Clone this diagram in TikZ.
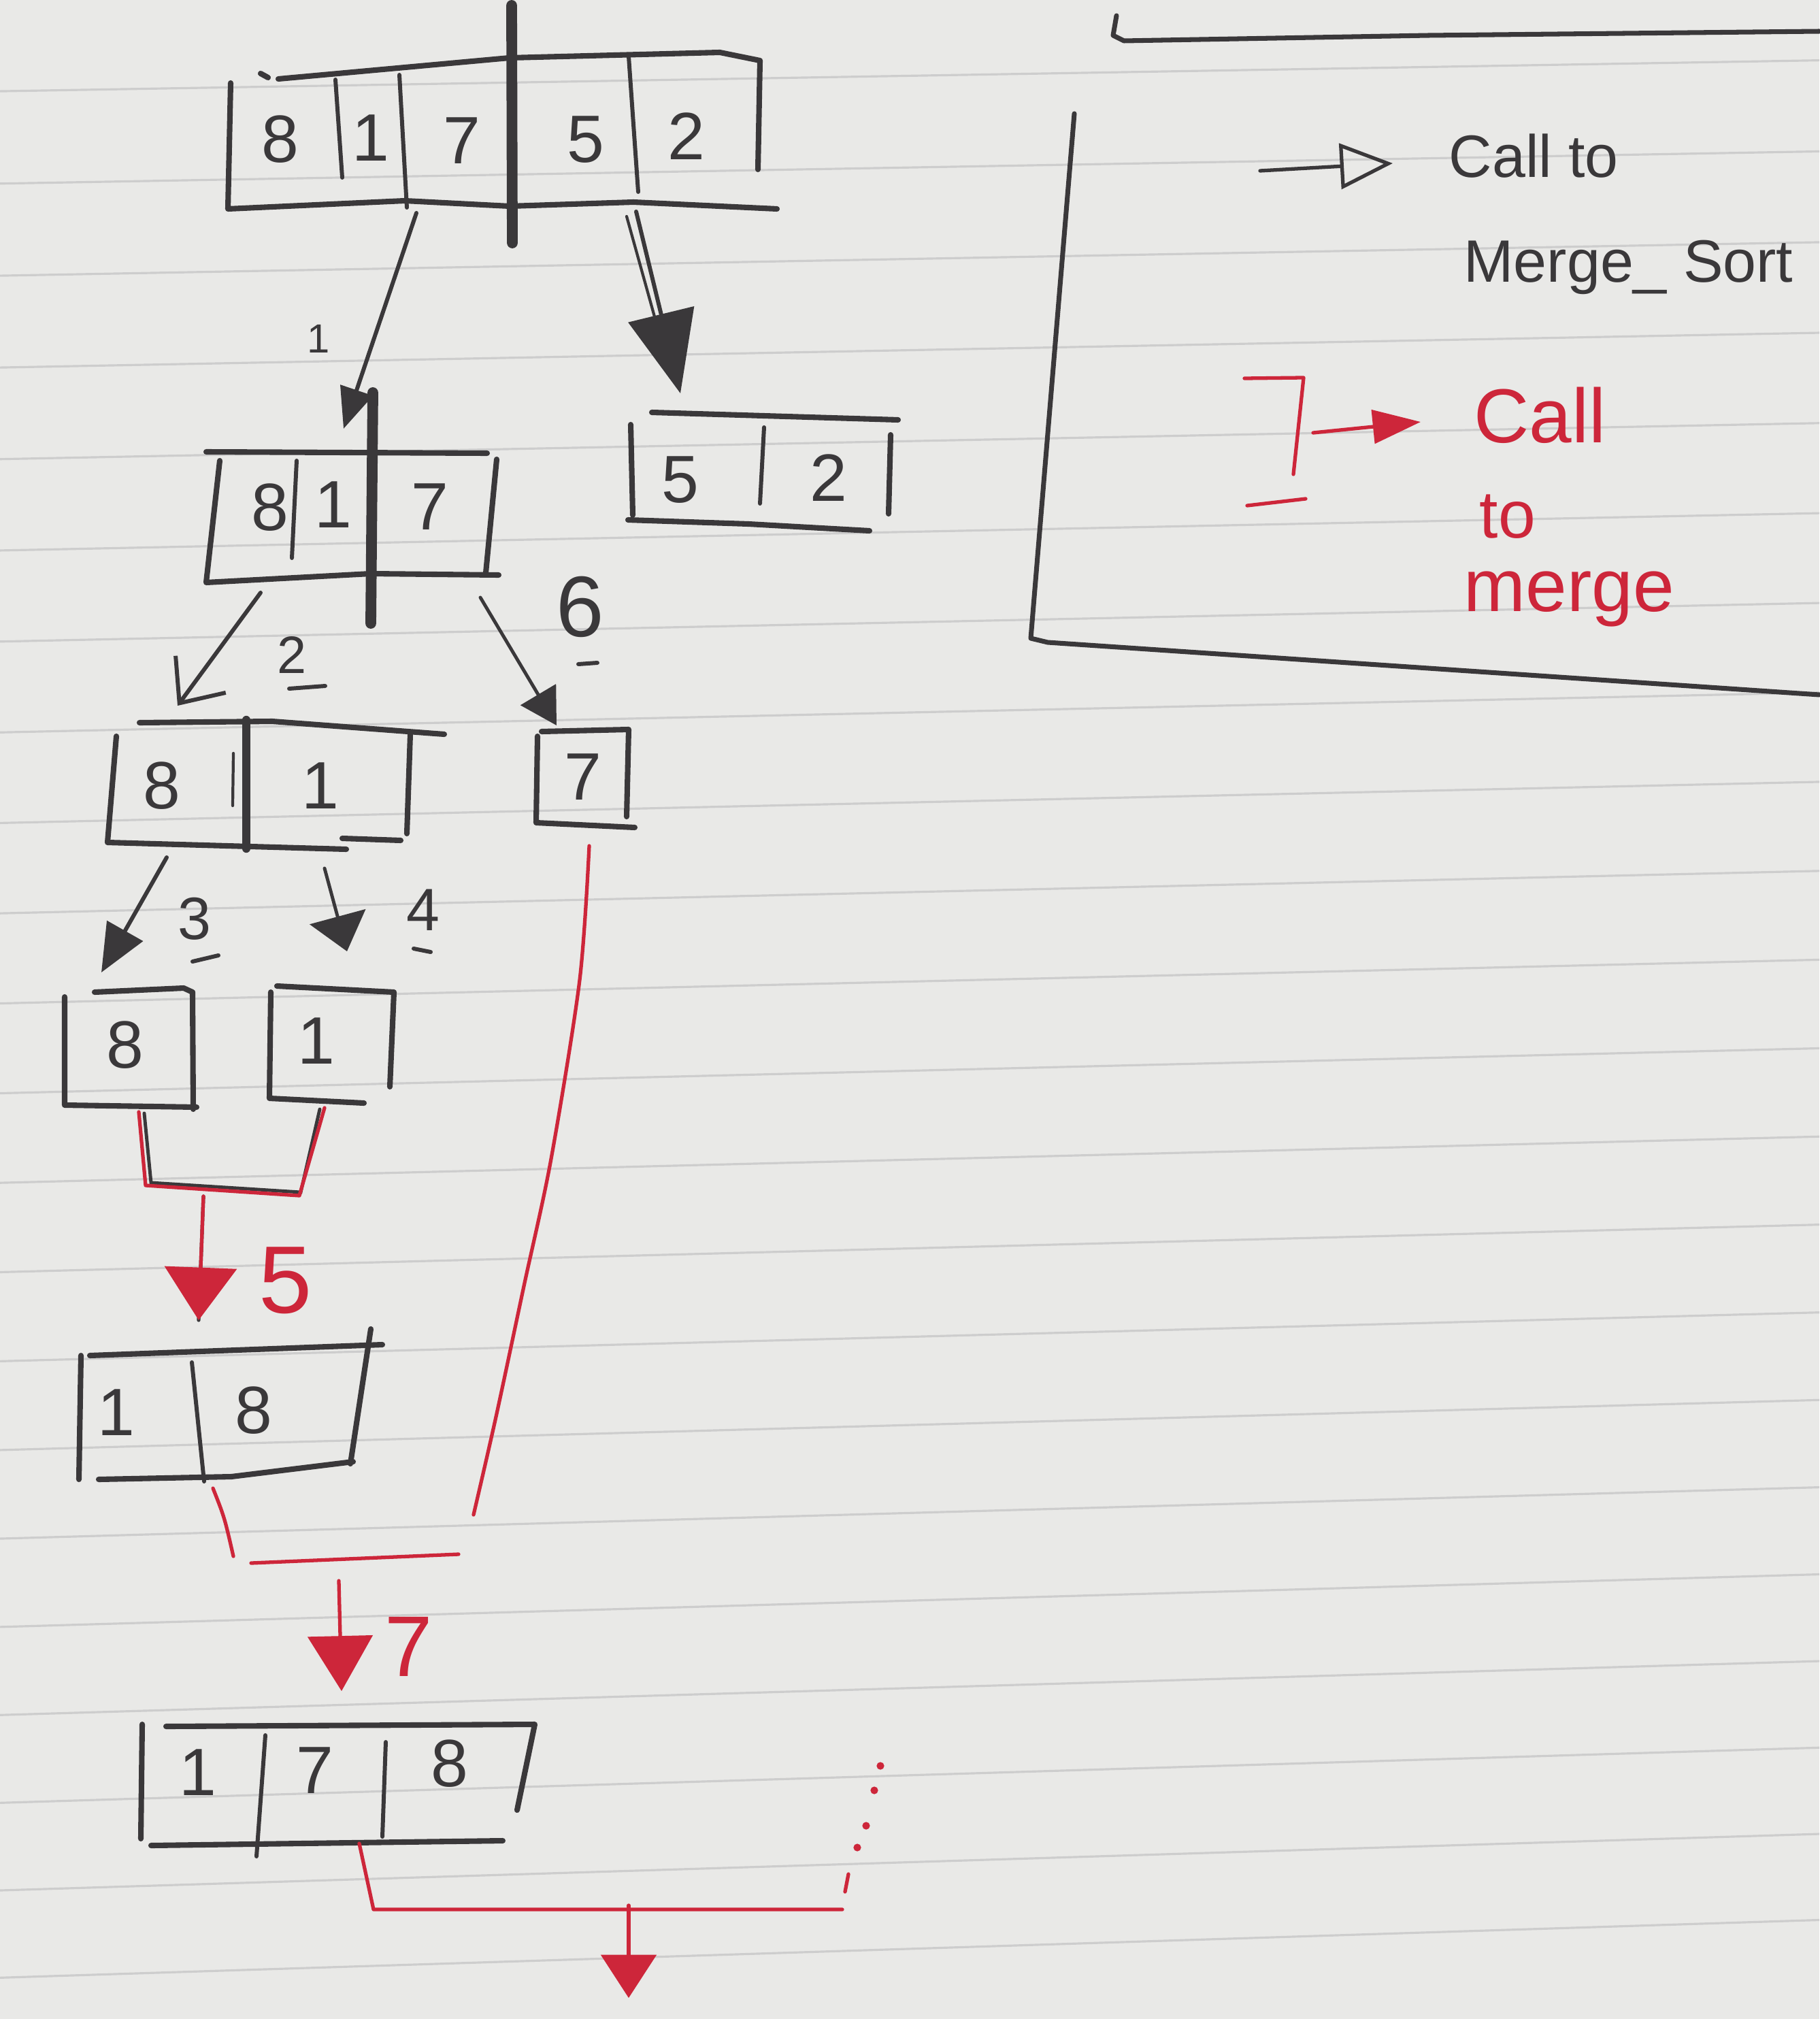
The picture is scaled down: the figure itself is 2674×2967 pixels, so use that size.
\documentclass[tikz,border=0pt]{standalone}
\usepackage{fontspec}
\setmainfont{Liberation Sans}
\usetikzlibrary{arrows.meta}
\definecolor{paper}{RGB}{233,233,231}
\definecolor{ruled}{RGB}{205,205,205}
\definecolor{ink}{RGB}{58,56,58}
\definecolor{rink}{RGB}{205,38,58}
\tikzset{
  boxline/.style={draw=ink, line width=2.3pt, line cap=round, line join=round},
  divline/.style={draw=ink, line width=1.7pt, line cap=round},
  splitline/.style={draw=ink, line width=4.5pt, line cap=round},
  callarrow/.style={draw=ink, line width=1.7pt, line cap=round},
  redline/.style={draw=rink, line width=1.5pt, line cap=round, line join=round},
  digit/.style={text=ink, inner sep=0pt, font=\fontsize{28}{30}\selectfont},
  lbl/.style={text=ink, inner sep=0pt},
  rlbl/.style={text=rink, inner sep=0pt},
  ruling/.style={draw=ruled, line width=0.9pt},
  frameline/.style={draw=ink, line width=2pt, line cap=round, line join=round},
}
\begin{document}
\begin{tikzpicture}[x=0.01cm,y=-0.01cm]
\fill[paper] (0,0) rectangle (2674,2967);
\useasboundingbox (0,0) rectangle (2674,2967);
% ruled paper
\foreach \k in {0,...,21}{
  \pgfmathsetmacro\yyk{129+135.5*\k-0.185*\k*(\k-1)}
  \pgfmathsetmacro\slp{0.017+0.0007*\k}
  \draw[ruling] (0,{\yyk+300*\slp}) -- (2674,{\yyk-2374*\slp});
}

% ---------- top box 8 1 7 | 5 2
\draw[boxline] (383,108) -- (394,114);
\draw[boxline] (409,116) -- (749,85) -- (1058,77) -- (1117,89) -- (1114,249);
\draw[boxline] (339,122) -- (335,307) -- (595,295) -- (749,303) -- (931,297) -- (1142,307);
\draw[divline] (493,117) -- (503,261);
\draw[divline] (587,110) -- (598,305);
\draw[divline] (924,83) -- (938,282);
\draw[splitline] (752,8) -- (753,357);
\node[digit] (t8) at (412,205) {8};
\node[digit] (t1) at (545,203) {1};
\node[digit] (t7) at (679,207) {7};
\node[digit] (t5) at (861,205) {5};
\node[digit] (t2) at (1009,200) {2};

% ---------- box 8 1 | 7
\draw[boxline] (303,664) -- (716,666);
\draw[boxline] (323,677) -- (303,856) -- (545,843) -- (733,845);
\draw[boxline] (730,675) -- (714,842);
\draw[divline] (436,677) -- (429,820);
\draw[splitline] (548,577) -- (545,916);
\node[digit] (m8) at (397,746) {8};
\node[digit] (m1) at (490,742) {1};
\node[digit] (m7) at (632,745) {7};

% ---------- box 5 2
\draw[boxline] (958,606) -- (1320,617);
\draw[boxline] (927,624) -- (930,757);
\draw[boxline] (923,764) -- (1100,770) -- (1278,780);
\draw[boxline] (1309,639) -- (1306,755);
\draw[divline] (1123,628) -- (1117,740);
\node[digit] (r5) at (1000,705) {5};
\node[digit] (r2) at (1218,702) {2};

% ---------- box 8 | 1
\draw[boxline] (205,1062) -- (400,1060) -- (653,1079);
\draw[boxline] (171,1082) -- (158,1238) -- (509,1248);
\draw[boxline] (503,1232) -- (589,1235);
\draw[boxline] (603,1079) -- (598,1225);
\draw[splitline, line width=3.5pt] (362,1058) -- (362,1247);
\draw[divline, line width=1.2pt] (343,1107) -- (342,1184);
\node[digit] (p8) at (238,1155) {8};
\node[digit] (p1) at (471,1155) {1};

% ---------- box 7
\draw[boxline] (796,1075) -- (924,1072) -- (921,1200);
\draw[boxline] (790,1082) -- (788,1209) -- (933,1216);
\node[digit] (q7) at (857,1142) {7};

% ---------- single boxes 8 and 1
\draw[boxline] (139,1458) -- (270,1452) -- (283,1458) -- (284,1630);
\draw[boxline] (95,1465) -- (95,1624) -- (289,1627);
\node[digit] (s8) at (184,1536) {8};
\draw[boxline] (407,1449) -- (579,1458) -- (573,1597);
\draw[boxline] (398,1458) -- (396,1614) -- (535,1621);
\node[digit] (s1) at (465,1530) {1};

% ---------- box 1 | 8
\draw[boxline] (132,1992) -- (562,1976);
\draw[boxline] (545,1953) -- (515,2151);
\draw[boxline] (119,1992) -- (116,2174);
\draw[boxline] (145,2174) -- (340,2170) -- (519,2148);
\draw[divline] (282,2002) -- (300,2177);
\node[digit] (u1) at (171,2076) {1};
\node[digit] (u8) at (373,2073) {8};

% ---------- box 1 | 7 | 8
\draw[boxline] (244,2537) -- (786,2534) -- (760,2660);
\draw[boxline] (209,2534) -- (207,2702);
\draw[boxline] (222,2712) -- (739,2705);
\draw[divline] (390,2550) -- (377,2728);
\draw[divline] (567,2560) -- (562,2699);
\node[digit] (v1) at (291,2605) {1};
\node[digit] (v7) at (463,2602) {7};
\node[digit] (v8) at (661,2592) {8};

% ---------- calls to merge sort (black arrows)
\coordinate (a1s) at (612,313);  \coordinate (a1e) at (505,630);
\draw[callarrow, -{Triangle[length=17pt,width=14pt]}] (a1s) -- (a1e);
\node[lbl, font=\fontsize{17}{17}\selectfont] (l1) at (468,498) {1};

\coordinate (a9s) at (935,311);  \coordinate (a9e) at (1000,578);
\coordinate (a9b) at (921,318);  \coordinate (a9c) at (980,530);
\draw[callarrow, line width=1.2pt] (a9b) -- (a9c);
\draw[callarrow, -{Triangle[length=34pt,width=28pt]}] (a9s) -- (a9e);

\coordinate (a2s) at (383,871);  \coordinate (a2e) at (261,1037);
\draw[callarrow, -{Straight Barb[length=15pt,width=26pt]}] (a2s) -- (a2e);
\node[lbl, font=\fontsize{22}{22}\selectfont] (l2) at (429,962) {2};
\draw[callarrow] (425,1012) -- (478,1008);

\coordinate (a6s) at (706,878);  \coordinate (a6e) at (818,1066);
\draw[callarrow, line width=1.4pt, -{Triangle[length=15pt,width=17pt]}] (a6s) -- (a6e);
\node[lbl, font=\fontsize{36}{36}\selectfont] (l6) at (853,892) {6};
\draw[callarrow] (850,976) -- (878,974);

\coordinate (a3s) at (245,1260); \coordinate (a3e) at (149,1429);
\draw[callarrow, -{Triangle[length=20pt,width=17pt]}] (a3s) -- (a3e);
\node[lbl, font=\fontsize{25}{25}\selectfont] (l3) at (286,1350) {3};
\draw[callarrow] (283,1413) -- (321,1404);

\coordinate (a4s) at (477,1276); \coordinate (a4e) at (510,1398);
\draw[callarrow, line width=1.4pt, -{Triangle[length=15pt,width=24pt]}] (a4s) -- (a4e);
\node[lbl, font=\fontsize{25}{25}\selectfont] (l4) at (622,1337) {4};
\draw[callarrow] (608,1394) -- (633,1399);

% ---------- calls to merge (red)
\coordinate (m1a) at (204,1634); \coordinate (m1b) at (214,1742);
\coordinate (m1c) at (440,1757); \coordinate (m1d) at (477,1628);
\draw[callarrow, line width=1.4pt] (212,1636) -- (222,1738) -- (442,1752) -- (470,1630);
\draw[redline] (m1a) -- (m1b) -- (m1c) -- (m1d);
\coordinate (a5s) at (299,1758); \coordinate (a5e) at (292,1940);
\draw[callarrow, line width=1.5pt] (a5s) -- (a5e);
\draw[redline, -{Triangle[length=22pt,width=30pt,fill=rink]}] (a5s) -- (a5e);
\node[rlbl, font=\fontsize{40}{40}\selectfont] (l5) at (420,1882) {5};

\coordinate (rl1) at (866,1243); \coordinate (rl2) at (696,2226);
\draw[redline] plot[smooth] coordinates {(rl1) (852,1440) (810,1703) (770,1890) (729,2082) (rl2)};
\coordinate (b7a) at (313,2187); \coordinate (b7b) at (343,2287);
\draw[redline] (b7a) .. controls (330,2230) .. (b7b);
\coordinate (h7a) at (369,2297); \coordinate (h7b) at (674,2284);
\draw[redline] (h7a) -- (h7b);
\coordinate (a7s) at (498,2323); \coordinate (a7e) at (502,2485);
\draw[redline, -{Triangle[length=23pt,width=27pt]}] (a7s) -- (a7e);
\node[rlbl, font=\fontsize{36}{36}\selectfont] (l7) at (601,2420) {7};

\coordinate (b8a) at (528,2709); \coordinate (b8b) at (549,2806);
\coordinate (b8c) at (1238,2806);
\draw[redline] (b8a) -- (b8b) -- (b8c);
\coordinate (a8s) at (924,2800); \coordinate (a8e) at (924,2936);
\draw[redline, -{Triangle[length=18pt,width=23pt]}] (a8s) -- (a8e);
\fill[rink] (1294,2595) circle (1.6pt);
\fill[rink] (1285,2631) circle (1.6pt);
\fill[rink] (1273,2683) circle (1.6pt);
\fill[rink] (1260,2715) circle (1.6pt);
\draw[redline] (1247,2754) -- (1242,2780);

% ---------- legend
\draw[frameline] (1641,23) -- (1636,52) -- (1652,60) -- (2100,52) -- (2674,46);
\draw[frameline] (1579,167) -- (1515,938) -- (1540,944) -- (2674,1021);
\coordinate (lgs) at (1852,251); \coordinate (lge) at (2047,240);
\draw[callarrow, line width=1.5pt, -{Triangle[open,length=22pt,width=19pt]}] (lgs) -- (lge);
\node[lbl, anchor=base west, font=\fontsize{25}{25}\selectfont] (lg1) at (2129,261) {Call to};
\node[lbl, anchor=base west, font=\fontsize{25}{25}\selectfont] (lg2) at (2151,415) {Merge\_ Sort};
\draw[redline] (1829,556) -- (1916,555) -- (1901,697);
\draw[redline] (1833,743) -- (1919,733);
\coordinate (lrs) at (1930,636); \coordinate (lre) at (2088,620);
\draw[redline, -{Triangle[length=20pt,width=14pt]}] (lrs) -- (lre);
\node[rlbl, anchor=base west, font=\fontsize{32}{32}\selectfont] (lr1) at (2166,650) {Call};
\node[rlbl, anchor=base west, font=\fontsize{28}{28}\selectfont] (lr2) at (2174,790) {to};
\node[rlbl, anchor=base west, font=\fontsize{31}{31}\selectfont] (lr3) at (2151,898) {merge};
\end{tikzpicture}
\end{document}
